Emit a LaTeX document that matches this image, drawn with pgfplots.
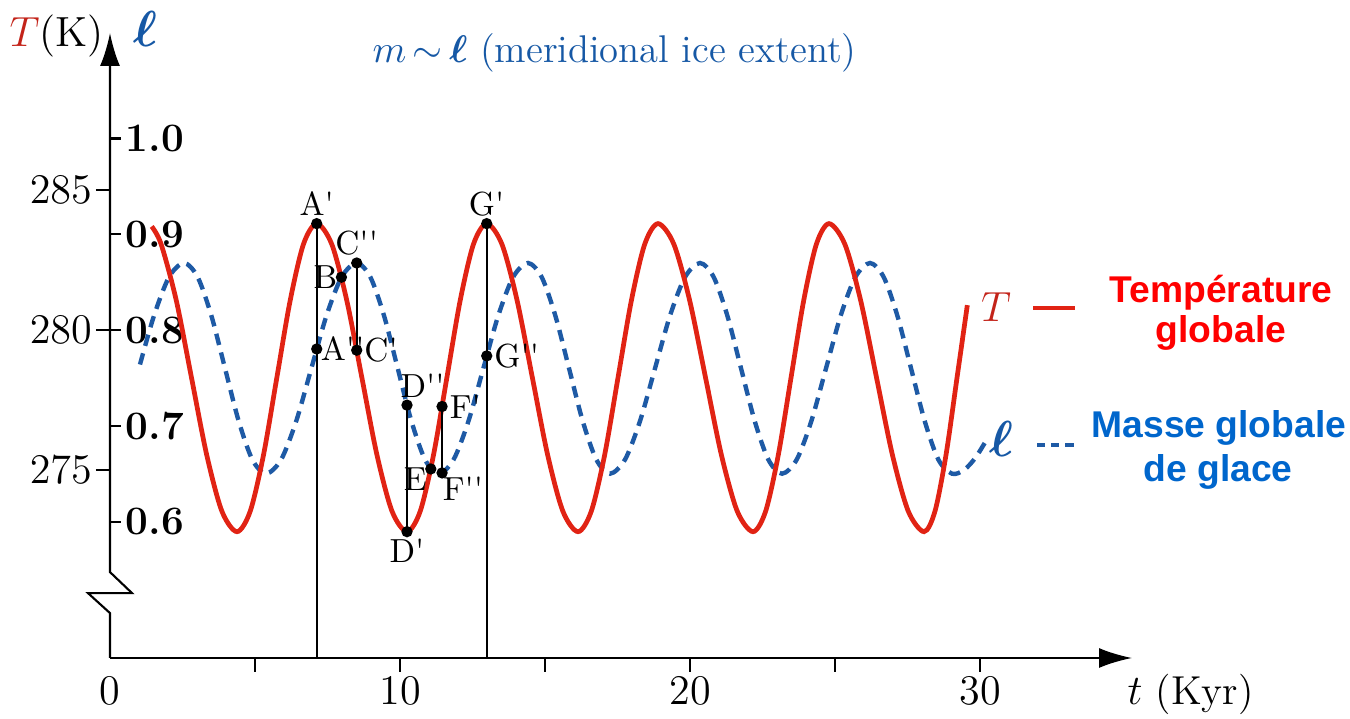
\documentclass[border=0pt]{standalone}
\usepackage{fontspec}
\newfontfamily\arialf{Liberation Sans}
\usepackage{bm}
\usepackage{pgfplots}
\pgfplotsset{compat=1.18}
\usetikzlibrary{arrows.meta}
\definecolor{redcurve}{RGB}{225,35,20}
\definecolor{bluecurve}{RGB}{30,90,165}
\definecolor{Tdark}{RGB}{195,35,25}
\definecolor{textred}{RGB}{255,0,0}
\definecolor{textblue}{RGB}{0,102,204}
\definecolor{titleblue}{RGB}{22,88,165}

\pgfplotstableread{
x T
1.438 283.70
1.764 283.063
2.287 281.05
2.810 278.30
3.333 275.55
3.856 273.537
4.379 272.80
4.837 273.537
5.295 275.55
5.753 278.30
6.212 281.05
6.670 283.063
7.128 283.80
7.647 283.063
8.166 281.05
8.685 278.30
9.203 275.55
9.722 273.537
10.241 272.80
10.699 273.537
11.157 275.55
11.616 278.30
12.074 281.05
12.532 283.063
12.990 283.80
13.515 283.063
14.039 281.05
14.564 278.30
15.089 275.55
15.613 273.537
16.138 272.80
16.598 273.537
17.058 275.55
17.517 278.30
17.977 281.05
18.437 283.063
18.897 283.80
19.443 283.063
19.989 281.05
20.535 278.30
21.080 275.55
21.626 273.537
22.172 272.80
22.609 273.537
23.046 275.55
23.483 278.30
23.919 281.05
24.356 283.063
24.793 283.80
25.339 283.063
25.885 281.05
26.431 278.30
26.977 275.55
27.523 273.537
28.069 272.80
28.448 273.537
28.828 275.55
29.207 278.30
29.562 280.89
}\Tdata

\pgfplotstableread{
x l
1.034 0.764
1.517 0.815
2.035 0.8553
2.552 0.870
3.023 0.8553
3.495 0.815
3.966 0.760
4.437 0.705
4.908 0.6647
5.379 0.650
5.900 0.6647
6.422 0.705
6.943 0.760
7.464 0.815
7.986 0.8553
8.507 0.870
8.978 0.8553
9.449 0.815
9.921 0.760
10.392 0.705
10.863 0.6647
11.334 0.650
11.847 0.6647
12.361 0.705
12.874 0.760
13.387 0.815
13.901 0.8553
14.414 0.870
14.885 0.8553
15.356 0.815
15.828 0.760
16.299 0.705
16.770 0.6647
17.241 0.650
17.758 0.6647
18.276 0.705
18.793 0.760
19.310 0.815
19.828 0.8553
20.345 0.870
20.816 0.8553
21.287 0.815
21.759 0.760
22.230 0.705
22.701 0.6647
23.172 0.650
23.678 0.6647
24.184 0.705
24.689 0.760
25.195 0.815
25.701 0.8553
26.207 0.870
26.678 0.8553
27.149 0.815
27.621 0.760
28.092 0.705
28.563 0.6647
29.034 0.650
29.450 0.654
29.850 0.667
30.276 0.688
}\Ldata

\pgfplotsset{
  base/.style={
    scale only axis, width=10.22cm, height=6.25cm,
    at={(1.10cm,0.61cm)}, anchor=south west,
    xmin=0, xmax=35.24, clip=false,
  },
}
\tikzset{lbl/.style={font=\fontsize{9.5}{11}\selectfont, inner sep=1pt}}
\newcommand{\pr}{\textquotesingle}

\begin{document}
\begin{tikzpicture}
\useasboundingbox (0,0) rectangle (13.5,7.19);

% l axis (blue curve, bold ticks inside)
\begin{axis}[base,
  ymin=0.45756, ymax=1.11018,
  hide x axis,
  axis y line=left,
  y axis line style={draw=none,-},
  tick align=inside,
  major tick length=1.1mm,
  every tick/.style={black, line width=0.6pt},
  ytick={0.6,0.7,0.8,0.9,1.0},
  yticklabels={\textbf{0.6},\textbf{0.7},\textbf{0.8},\textbf{0.9},\textbf{1.0}},
  yticklabel style={anchor=west, inner sep=0pt, xshift=1.5mm, font=\fontsize{11.5}{13}\selectfont},
]
\addplot[bluecurve, line width=1.25pt, dash pattern=on 3.3pt off 2.2pt, smooth, tension=0.5] table[x=x, y=l] {\Ldata};
\end{axis}

% T axis (red curve, x axis)
\begin{axis}[base,
  ymin=268.29, ymax=290.607,
  axis x line=bottom,
  axis y line=left,
  y axis line style={draw=none,-},
  x axis line style={line width=0.6pt, -{Latex[length=3.3mm,width=2mm]}},
  tick align=outside,
  major tick length=1.4mm,
  every tick/.style={black, line width=0.6pt},
  ytick={275,280,285},
  yticklabel style={inner sep=1pt, font=\fontsize{12}{14}\selectfont},
  xtick={5,10,15,20,25,30},
  xticklabels={,10,,20,,30},
  extra x ticks={0},
  extra x tick labels={0},
  extra x tick style={major tick length=0pt, xticklabel style={yshift=-1.4mm}},
  xticklabel style={inner sep=1pt, font=\fontsize{12}{14}\selectfont},
]
\addplot[redcurve, line width=1.35pt, smooth, tension=0.5] table[x=x, y=T] {\Tdata};
% vertical construction lines
\addplot[black, line width=0.5pt] coordinates {(7.128,283.80) (7.128,268.29)};
\addplot[black, line width=0.5pt] coordinates {(12.990,283.80) (12.990,268.29)};
\addplot[black, line width=0.5pt] coordinates {(8.507,282.394) (8.507,279.28)};
\addplot[black, line width=0.5pt] coordinates {(10.241,277.319) (10.241,272.80)};
\addplot[black, line width=0.5pt] coordinates {(11.45,277.27) (11.45,274.898)};
% points on the T curve
\addplot[only marks, mark=*, mark size=1.4pt, black] coordinates {
(7.128,283.80) (7.98,281.886) (8.507,279.28) (10.241,272.80) (11.062,275.04) (11.45,277.27) (12.990,283.80)};
\node[lbl, above=1pt] at (axis cs:7.128,283.80) {A\pr};
\node[lbl, left=0pt] at (axis cs:7.98,281.886) {B};
\node[lbl, right=1pt] at (axis cs:8.507,279.28) {C\pr};
\node[lbl, below=1pt] at (axis cs:10.241,272.80) {D\pr};
\node[lbl, left=0pt, yshift=-3pt] at (axis cs:11.062,275.04) {E};
\node[lbl, right=1pt] at (axis cs:11.45,277.27) {F\pr};
\node[lbl, above=1pt] at (axis cs:12.990,283.80) {G\pr};
% broken y axis line
\draw[line width=0.6pt, -{Latex[length=3.3mm,width=2mm]}]
  (axis cs:0,268.29) -- (axis cs:0,269.893) -- (axis cs:-0.759,270.607)
  -- (axis cs:0.759,270.607) -- (axis cs:0,271.357) -- (axis cs:0,290.607);
\end{axis}

% l axis again: points on the l curve
\begin{axis}[base, ymin=0.45756, ymax=1.11018, hide axis]
\addplot[only marks, mark=*, mark size=1.4pt, black] coordinates {
(7.128,0.7802) (8.507,0.870) (10.241,0.7216) (11.45,0.6508) (12.990,0.773)};
\node[lbl, right=0pt] at (axis cs:7.128,0.7802) {A\pr\pr};
\node[lbl, above=1pt] at (axis cs:8.507,0.870) {C\pr\pr};
\node[lbl, anchor=south west, xshift=-3pt, yshift=1pt] at (axis cs:10.241,0.7216) {D\pr\pr};
\node[lbl, anchor=north west, xshift=-1pt] at (axis cs:11.45,0.6508) {F\pr\pr};
\node[lbl, right=1pt] at (axis cs:12.990,0.773) {G\pr\pr};
\end{axis}

% axis titles
\node[anchor=base west, inner sep=0pt, font=\fontsize{12}{14}\selectfont] at (0.09,6.72) {\textcolor{Tdark}{$T$}(K)};
\node[anchor=base west, inner sep=0pt, font=\fontsize{14}{16}\selectfont, text=titleblue] at (1.33,6.72) {$\bm{\ell}$};
\node[anchor=base west, inner sep=0pt, font=\fontsize{11}{13}\selectfont, text=titleblue] at (3.72,6.56) {$m\,{\sim}\,\bm{\ell}$ (meridional ice extent)};
\node[anchor=base west, inner sep=0pt, font=\fontsize{11.5}{13}\selectfont] at (11.27,0.14) {$t$ (Kyr)};

% right-hand legend
\node[anchor=center, inner sep=0pt, font=\fontsize{13}{15}\selectfont, text=Tdark] at (9.96,4.12) {$T$};
\draw[redcurve, line width=1.4pt] (10.33,4.11) -- (10.75,4.11);
\node[anchor=center, inner sep=0pt, font=\fontsize{14}{16}\selectfont, text=titleblue] at (10.01,2.80) {$\bm{\ell}$};
\draw[bluecurve, line width=1.2pt, dash pattern=on 2.4pt off 1.6pt] (10.37,2.74) -- (10.75,2.74);

\node[anchor=base, inner sep=0pt, font=\arialf\bfseries\fontsize{10.6}{12}\selectfont, text=textred] at (12.21,4.16) {Température};
\node[anchor=base, inner sep=0pt, font=\arialf\bfseries\fontsize{10.6}{12}\selectfont, text=textred] at (12.21,3.76) {globale};
\node[anchor=base, inner sep=0pt, font=\arialf\bfseries\fontsize{10.6}{12}\selectfont, text=textblue] at (12.19,2.81) {Masse globale};
\node[anchor=base, inner sep=0pt, font=\arialf\bfseries\fontsize{10.6}{12}\selectfont, text=textblue] at (12.18,2.37) {de glace};
\end{tikzpicture}
\end{document}
